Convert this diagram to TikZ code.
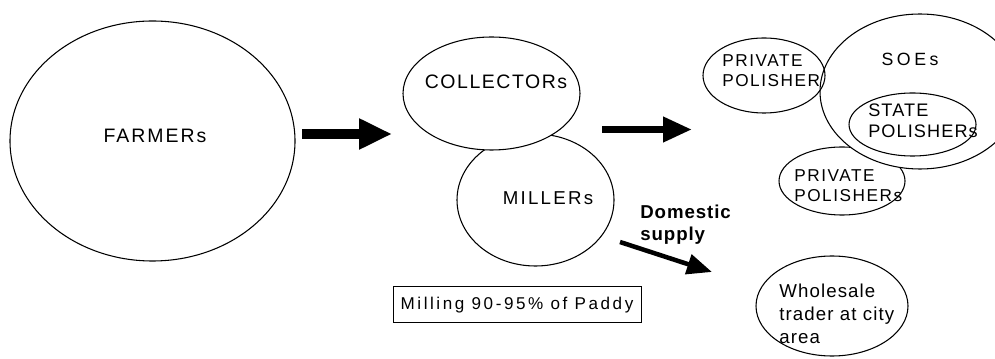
\documentclass[tikz,border=0pt]{standalone}
\usepackage{fontspec}
\setmainfont{Liberation Sans}
\usetikzlibrary{shapes.geometric,arrows.meta}
\newcommand\lblfont[3]{\fontsize{#1}{#3}\selectfont\addfontfeatures{LetterSpace=#2}}
\begin{document}
\begin{tikzpicture}[x=0.75pt,y=-0.75pt,
  ell/.style={draw, ellipse, inner sep=0pt, line width=0.8pt},
  ellw/.style={ell, fill=white},
  lbl/.style={inner sep=0pt, anchor=base},
  mlbl/.style={inner sep=0pt, align=left, anchor=north west},
  blockarrow/.style={draw=black, line cap=butt}
]
\useasboundingbox (0,0) rectangle (995,359);

% ellipses
\node[ell, minimum width=213.75pt, minimum height=180pt] (farmers) at (152.5,141) {};
\node[ell, minimum width=117.75pt, minimum height=99pt] (millers) at (535.5,200) {};
\node[ellw, minimum width=132.75pt, minimum height=84.75pt] (collectors) at (491.5,93.5) {};
\node[ell, minimum width=94.5pt, minimum height=51pt] (privpol2) at (842,181) {};
\node[ellw, minimum width=150pt, minimum height=116.25pt] (soes) at (920,91.5) {};
\node[ell, minimum width=95.25pt, minimum height=47.25pt] (statepol) at (912.5,124.5) {};
\node[ell, minimum width=91.5pt, minimum height=56.25pt] (privpol1) at (764,75.5) {};
\node[ell, minimum width=114pt, minimum height=75pt] (wholesale) at (832,306) {};

% box
\node[draw, line width=0.75pt, minimum width=186pt, minimum height=27pt, inner sep=0pt,
      font=\lblfont{12.8pt}{15}{15pt}] (milling) at (517,305) {Milling 90-95\% of Paddy};

% labels
\node[lbl, font=\lblfont{14.6pt}{10}{15pt}] (tfarmers) at (155,143) {FARMERs};
\node[lbl, font=\lblfont{14.6pt}{8}{15pt}] (tcollectors) at (496,89) {COLLECTORs};
\node[lbl, font=\lblfont{14pt}{12}{15pt}] (tmillers) at (548,205) {MILLERs};
\node[lbl, font=\lblfont{13.3pt}{20}{15pt}] (tsoes) at (910,66) {SOEs};
\node[mlbl, font=\lblfont{12.9pt}{9}{15pt}] (tprivpol1) at (722,54.5) {PRIVATE\\POLISHER};
\node[mlbl, font=\lblfont{13.6pt}{6}{15.75pt}] (tstatepol) at (868,104) {STATE\\POLISHERs};
\node[mlbl, font=\lblfont{12.9pt}{9}{15pt}] (tprivpol2) at (794,169.5) {PRIVATE\\POLISHERs};
\node[mlbl, font=\lblfont{14pt}{6}{17.25pt}] (twholesale) at (779,283.5) {Wholesale\\trader at city\\area};
\node[mlbl, font=\lblfont{14pt}{5}{16.5pt}\bfseries] (tdomestic) at (640,204.5) {Domestic\\supply};

% arrows
\coordinate (a1s) at (302,134);
\coordinate (a1e) at (392,134);
\coordinate (a2s) at (602,129.5);
\coordinate (a2e) at (692,129.5);
\coordinate (a3s) at (620,242);
\coordinate (a3e) at (712,272);
\draw[blockarrow, line width=7.5pt, -{Triangle[length=24.75pt,width=21.75pt]}] (a1s) -- (a1e);
\draw[blockarrow, line width=5.25pt, -{Triangle[length=21.75pt,width=18pt]}] (a2s) -- (a2e);
\draw[blockarrow, line width=3.4pt, -{Triangle[length=18.75pt,width=15pt]}] (a3s) -- (a3e);
\end{tikzpicture}
\end{document}
